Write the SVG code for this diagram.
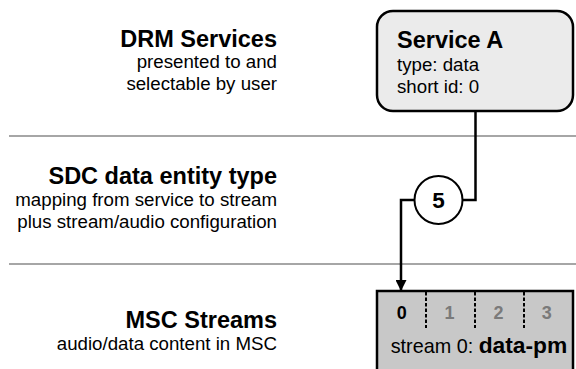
<svg xmlns="http://www.w3.org/2000/svg" width="576" height="369" viewBox="0 0 576 369">
<style>
text{font-family:"Liberation Sans",Arial,sans-serif;fill:#000}
.h{font-weight:bold;font-size:23.5px}
.r{font-size:18.7px}
.lab{text-anchor:end}
.sep{stroke:#a6a6a6;stroke-width:2;fill:none}
.con{stroke:#000;stroke-width:2.5;fill:none}
.dig{font-weight:bold;font-size:18px;text-anchor:middle}
.g{fill:#7a7a7a}
.div{stroke:#000;stroke-width:2;stroke-dasharray:3.5 2}
</style>
<defs>
<marker id="arr" markerUnits="userSpaceOnUse" markerWidth="12" markerHeight="11" refX="11" refY="5.5" orient="auto">
<path d="M0,0 L11,5.5 L0,11 Z" fill="#000"/>
</marker>
</defs>
<g id="separators">
<line class="sep" x1="9" y1="136" x2="576" y2="136"/>
<line class="sep" x1="9" y1="264" x2="576" y2="264"/>
</g>
<g id="layer-labels">
<text class="h lab" x="277" y="46.5">DRM Services</text>
<text class="r lab" x="277" y="68">presented to and</text>
<text class="r lab" x="277" y="90">selectable by user</text>
<text class="h lab" x="277" y="184">SDC data entity type</text>
<text class="r lab" x="277" y="206">mapping from service to stream</text>
<text class="r lab" x="277" y="228">plus stream/audio configuration</text>
<text class="h lab" x="277" y="328">MSC Streams</text>
<text class="r lab" x="277" y="350">audio/data content in MSC</text>
</g>
<g id="connectors">
<path class="con" d="M475.5,111 V200 H462.5"/>
<path class="con" d="M414.5,200 H401 V291" marker-end="url(#arr)"/>
</g>
<g id="service-a">
<rect x="377" y="11" width="196" height="100" rx="16" ry="16" fill="#ebebeb" stroke="#000" stroke-width="2.5"/>
<text class="h" x="397" y="47.5">Service A</text>
<text class="r" x="397" y="70.7">type: data</text>
<text class="r" x="397" y="92.7">short id: 0</text>
</g>
<g id="sdc-5">
<circle cx="438.5" cy="200" r="24" fill="#fff" stroke="#000" stroke-width="2"/>
<text class="h" x="438.5" y="208" text-anchor="middle" style="font-size:22.5px">5</text>
</g>
<g id="msc-streams">
<rect x="377" y="291" width="196" height="95" fill="#c8c8c8" stroke="#000" stroke-width="2.5"/>
<line class="div" x1="426" y1="292" x2="426" y2="328"/>
<line class="div" x1="475" y1="292" x2="475" y2="328"/>
<line class="div" x1="524" y1="292" x2="524" y2="328"/>
<text class="dig" x="401.7" y="318.5">0</text>
<text class="dig g" x="449.5" y="318.5">1</text>
<text class="dig g" x="498.5" y="318.5">2</text>
<text class="dig g" x="546.7" y="318.5">3</text>
<text x="390.7" y="352.7"><tspan class="r" style="font-size:19.8px">stream 0: </tspan><tspan class="h" style="font-size:22.8px">data-pm</tspan></text>
</g>
</svg>
